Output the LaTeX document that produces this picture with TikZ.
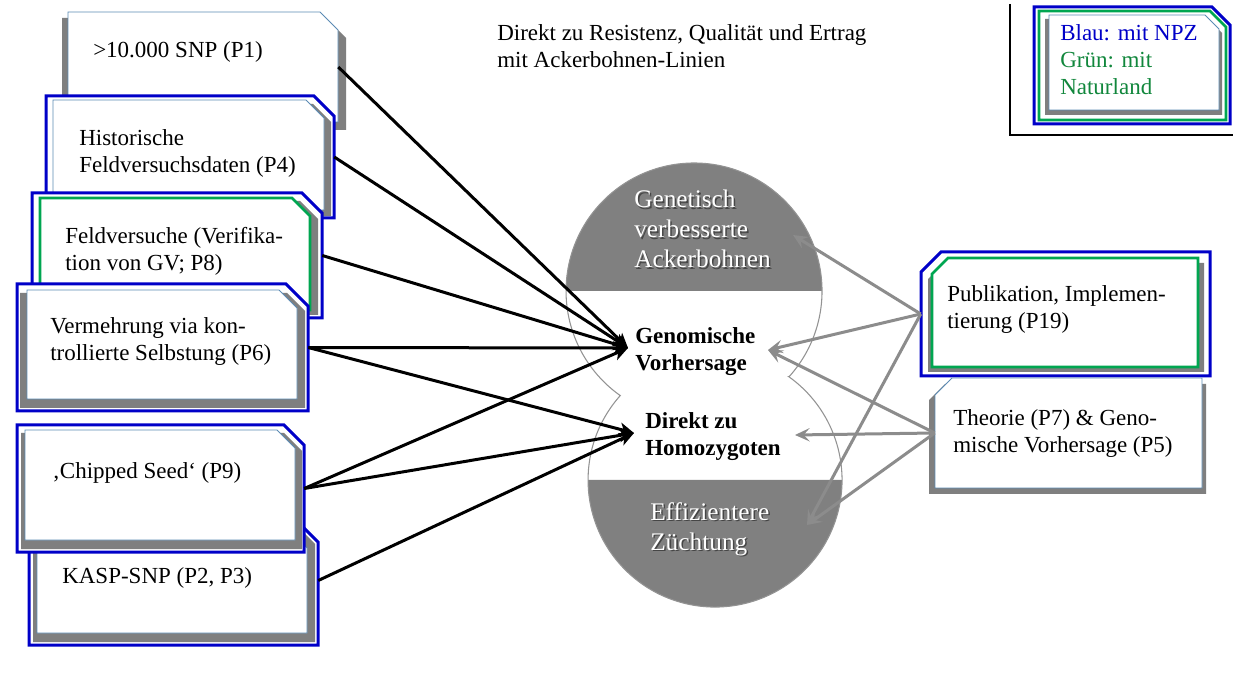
\documentclass[tikz,border=0pt]{standalone}
\usepackage{fontspec}
\setmainfont{Liberation Serif}
\usetikzlibrary{arrows.meta,fit,calc}
\definecolor{nblue}{RGB}{0,0,200}
\definecolor{ngreen}{RGB}{0,166,81}
\definecolor{lgreen}{RGB}{17,135,60}
\definecolor{steel}{RGB}{91,139,181}
\definecolor{shadowgray}{RGB}{127,127,127}
\definecolor{capgray}{RGB}{128,128,128}
\definecolor{arrgray}{RGB}{140,140,140}
\definecolor{txtshadow}{RGB}{70,70,70}
\newcommand\chNE[6]{\path[#1] (#2,#3) -- ({#4-#6},#3) -- (#4,{#3+#6}) -- (#4,#5) -- (#2,#5) -- cycle;}
\newcommand\chNW[6]{\path[#1] ({#2+#6},#3) -- (#4,#3) -- (#4,#5) -- (#2,#5) -- (#2,{#3+#6}) -- cycle;}
\tikzset{
  blueframe/.style={draw=nblue, line width=2.25pt, fill=white},
  greenframe/.style={draw=ngreen, line width=2pt, fill=white},
  shadowfill/.style={fill=shadowgray},
  card/.style={draw=steel, line width=0.6pt, fill=white},
  area/.style={inner sep=0pt, draw=none},
  lbl/.style={anchor=west, align=left, inner sep=0pt, font=\fontsize{17.25pt}{20.25pt}\selectfont},
  biglbl/.style={anchor=west, align=left, inner sep=0pt, text=white, font=\fontsize{19pt}{22.5pt}\selectfont},
  bigshadow/.style={biglbl, text=txtshadow},
  boldlbl/.style={anchor=west, align=left, inner sep=0pt, font=\fontsize{17.25pt}{20.25pt}\selectfont\bfseries},
  blackarrow/.style={draw=black, line width=2.25pt, -{Stealth[length=11pt,width=10pt,inset=3pt]}},
  grayarrow/.style={draw=arrgray, line width=2.25pt, -{Stealth[length=11pt,width=10pt,inset=4.5pt]}},
  outline/.style={draw=gray!85, line width=0.8pt}
}
\begin{document}
\begin{tikzpicture}[x=0.75pt,y=-0.75pt]
\fill[white] (0,0) rectangle (1233,677);
\useasboundingbox (0,0) rectangle (1233,677);

% central shape
\fill[capgray] (566,291) arc[start angle=180, end angle=360, radius=128] -- cycle;
\fill[capgray] (842,480) arc[start angle=0, end angle=180, radius=127] -- cycle;
\draw[outline] (789.0,376.8) arc[start angle=42.1, end angle=-234.8, radius=128]
  arc[start angle=221.7, end angle=-54.4, radius=127] -- cycle;

% title
\node[lbl] (title) at (497,46.5) {Direkt zu Resistenz, Qualität und Ertrag\\mit Ackerbohnen-Linien};

% legend
\draw[line width=0.8pt] (1010,4) -- (1010,135) -- (1233,135);
\chNE{blueframe}{1034}{7}{1230}{124}{18}
\chNE{greenframe}{1039}{11}{1226}{120}{16}
\chNE{shadowfill}{1045}{19}{1222}{115}{14}
\chNE{card}{1049}{15}{1219}{110}{14}
\node[lbl] (legend) at (1060,59.5) {\textcolor{nblue}{Blau: mit NPZ}\\\textcolor{lgreen}{Grün: mit}\\\textcolor{lgreen}{Naturland}};

% P1
\chNE{shadowfill}{62}{18}{346}{130}{20}
\chNE{card}{68}{12}{338}{122}{18}
\node[area, fit={(68,12) (338,122)}] (p1) {};
\node[lbl] (t1) at (93,52) {>10.000 SNP (P1)};

% P4
\chNE{blueframe}{46}{96}{334}{218}{20}
\chNE{shadowfill}{55}{104}{331}{216}{18}
\chNE{card}{53}{100}{324}{210}{18}
\node[area, fit={(46,96) (334,218)}] (p4) {};
\node[lbl] (t4) at (79,153.5) {Historische\\Feldversuchsdaten (P4)};

% P8
\chNE{blueframe}{32}{193}{322}{318}{20}
\chNE{shadowfill}{42}{201}{318}{315}{18}
\chNE{greenframe}{40}{198}{310}{310}{18}
\node[area, fit={(32,193) (322,318)}] (p8) {};
\node[lbl] (t8) at (65,251) {Feldversuche (Verifika-\\tion von GV; P8)};

% P6
\chNE{blueframe}{17}{284}{308}{411}{22}
\chNE{shadowfill}{20}{293}{305}{408}{18}
\chNE{card}{27}{290}{297}{399}{18}
\node[area, fit={(17,284) (308,411)}] (p6) {};
\node[lbl] (t6) at (50,342) {Vermehrung via kon-\\trollierte Selbstung (P6)};

% KASP (P2, P3)
\chNE{blueframe}{29}{528}{318}{645}{14}
\chNE{shadowfill}{33}{532}{315}{642}{12}
\chNE{card}{37}{536}{307}{633}{12}
\node[area, fit={(29,528) (318,645)}] (p2) {};
\node[lbl] (tk) at (62,578) {KASP-SNP (P2, P3)};

% P9
\chNE{blueframe}{17}{425}{304}{552}{20}
\chNE{shadowfill}{21}{433}{302}{549}{18}
\chNE{card}{25}{430}{295}{540}{18}
\node[area, fit={(17,425) (304,552)}] (p9) {};
\node[lbl] (t9) at (52,473) {‚Chipped Seed‘ (P9)};

% P19
\chNW{blueframe}{921}{252}{1210}{376}{20}
\chNW{shadowfill}{928}{263}{1204}{372}{16}
\chNW{greenframe}{932}{258}{1198}{367}{16}
\node[area, fit={(921,252) (1210,376)}] (p19) {};
\node[lbl] (t19) at (947,310) {Publikation, Implemen-\\tierung (P19)};

% P5 / P7
\chNW{shadowfill}{929}{384}{1206}{494}{16}
\chNW{card}{935}{378}{1202}{488}{17}
\node[area, fit={(935,378) (1202,488)}] (p5) {};
\node[lbl] (t5) at (953,434) {Theorie (P7) \& Geno-\\mische Vorhersage (P5)};

% central texts
\node[bigshadow] (gens) at (635.5,230.5) {Genetisch\\verbesserte\\Ackerbohnen};
\node[biglbl] (gen) at (634,229) {Genetisch\\verbesserte\\Ackerbohnen};
\node[bigshadow] (effs) at (651.5,530.5) {Effizientere\\Züchtung};
\node[biglbl] (eff) at (650,529) {Effizientere\\Züchtung};
\node[boldlbl] (gv) at (635,351.5) {Genomische\\Vorhersage};
\node[boldlbl] (dz) at (645,436.5) {Direkt zu\\Homozygoten};

% arrow targets
\coordinate (gvin) at (628,348);
\coordinate (dzin) at (634,433);
\coordinate (genin) at (793,235);
\coordinate (gvr) at (768,350);
\coordinate (dzr) at (795,435);
\coordinate (effin) at (807,525);

% black arrows
\draw[blackarrow] (p1.east) -- (gvin);
\draw[blackarrow] (p4.east) -- (gvin);
\draw[blackarrow] (p8.east) -- (gvin);
\draw[blackarrow] (p6.east) -- (gvin);
\draw[blackarrow] (p9.east) -- (gvin);
\draw[blackarrow] (p6.east) -- (dzin);
\draw[blackarrow] (p9.east) -- (dzin);
\draw[blackarrow] ($(p2.east)+(0,-6)$) -- (dzin);

% gray arrows
\draw[grayarrow] (p19.west) -- (genin);
\draw[grayarrow] (p19.west) -- (gvr);
\draw[grayarrow] (p19.west) -- (effin);
\draw[grayarrow] (p5.west) -- (gvr);
\draw[grayarrow] (p5.west) -- (dzr);
\draw[grayarrow] (p5.west) -- (effin);
\end{tikzpicture}
\end{document}
